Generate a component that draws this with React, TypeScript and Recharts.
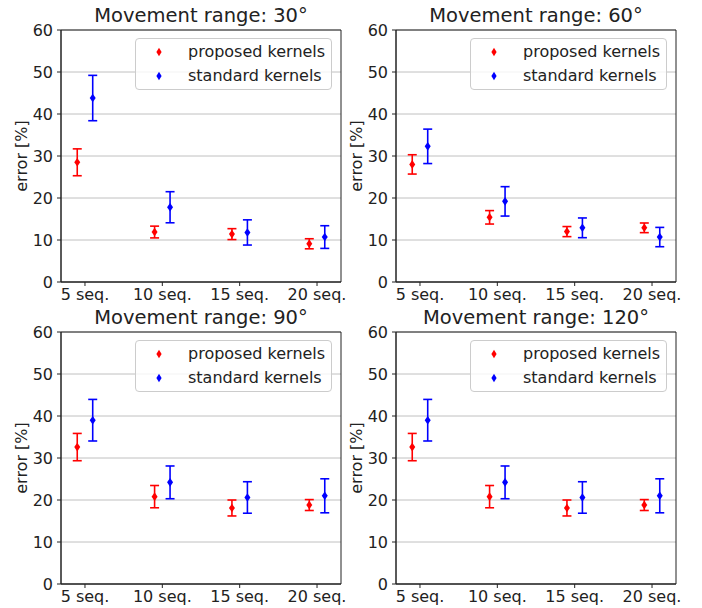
import { ScatterChart, Scatter, XAxis, YAxis, CartesianGrid, ErrorBar, ReferenceArea } from "recharts"

const categories = ["5 seq.", "10 seq.", "15 seq.", "20 seq."]
const yTicks = [0, 10, 20, 30, 40, 50, 60]
const titles = ["Movement range: 30°", "Movement range: 60°", "Movement range: 90°", "Movement range: 120°"]
const seriesNames = ["proposed kernels", "standard kernels"]

const proposed30 = [28.5, 11.9, 11.4, 9.1]
const proposedErr30 = [3.2, 1.4, 1.3, 1.2]
const standard30 = [43.8, 17.8, 11.8, 10.7]
const standardErr30 = [5.4, 3.7, 3.0, 2.7]

const proposed60 = [28.0, 15.4, 12.0, 12.9]
const proposedErr60 = [2.3, 1.6, 1.2, 1.15]
const standard60 = [32.3, 19.2, 12.9, 10.7]
const standardErr60 = [4.1, 3.5, 2.35, 2.3]

const proposed90 = [32.6, 20.8, 18.1, 18.8]
const proposedErr90 = [3.25, 2.65, 1.9, 1.3]
const standard90 = [39.0, 24.2, 20.6, 21.0]
const standardErr90 = [4.95, 3.9, 3.75, 4.05]

const proposed120 = [32.6, 20.8, 18.1, 18.8]
const proposedErr120 = [3.25, 2.65, 1.9, 1.3]
const standard120 = [39.0, 24.2, 20.6, 21.0]
const standardErr120 = [4.95, 3.9, 3.75, 4.05]

// the two series sit a little left / right of each category
const SHIFT = 0.1
const RED = "#ff0000"
const BLUE = "#0000ff"
const INK = "#222"

function toPoints(values: number[], errors: number[], shift: number) {
    return values.map((v, i) => ({ x: i + shift, y: v, err: errors[i] }))
}

const Diamond = (props: any) => {
    const { cx, cy, fill } = props
    if (cx == null || cy == null) return null
    return <polygon points={`${cx},${cy - 4.3} ${cx + 3},${cy} ${cx},${cy + 4.3} ${cx - 3},${cy}`} fill={fill} />
}

interface PanelProps {
    title: string
    proposed: number[]
    proposedErr: number[]
    standard: number[]
    standardErr: number[]
    left: number
    top: number
}

function LegendBox() {
    const colors = [RED, BLUE]
    return (
        <div
            style={{
                position: "absolute", left: 135, top: 38, width: 195, height: 50,
                border: "1px solid #cccccc", borderRadius: 4, background: "rgba(255,255,255,0.8)",
                fontSize: 16, color: INK,
            }}
        >
            {seriesNames.map((name, i) => (
                <div key={name} style={{ position: "absolute", left: 0, top: 1 + i * 24, height: 24, width: 195 }}>
                    <svg width={40} height={24} style={{ position: "absolute", left: 0, top: 0 }}>
                        <polygon points="23,7.7 25.6,12 23,16.3 20.4,12" fill={colors[i]} />
                    </svg>
                    <span style={{ position: "absolute", left: 52, top: 0, lineHeight: "24px", whiteSpace: "nowrap" }}>{name}</span>
                </div>
            ))}
        </div>
    )
}

function Panel({ title, proposed, proposedErr, standard, standardErr, left, top }: PanelProps) {
    return (
        <div style={{ position: "absolute", left, top, width: 351, height: 310 }}>
            <div style={{ position: "absolute", left: 61, top: 5, width: 280, textAlign: "center", fontSize: 19.5, lineHeight: "22px", color: INK }}>
                {title}
            </div>
            <ScatterChart width={351} height={310} margin={{ top: 30, right: 10, bottom: 0, left: 21 }}>
                <CartesianGrid vertical={false} stroke="#b0b0b0" strokeWidth={0.8} />
                <XAxis
                    type="number"
                    dataKey="x"
                    domain={[-0.31, 3.31]}
                    allowDataOverflow
                    ticks={[0, 1, 2, 3]}
                    interval={0}
                    tickFormatter={(i: number) => categories[i]}
                    height={28}
                    tickSize={4}
                    tickMargin={3}
                    stroke={INK}
                    tick={{ fontSize: 16, fill: INK }}
                />
                <YAxis
                    type="number"
                    dataKey="y"
                    domain={[0, 60]}
                    allowDataOverflow
                    ticks={yTicks}
                    interval={0}
                    width={40}
                    tickSize={4}
                    tickMargin={4}
                    stroke={INK}
                    tick={{ fontSize: 16, fill: INK }}
                    label={{ value: "error [%]", angle: -90, position: "insideLeft", offset: 0, style: { textAnchor: "middle", fontSize: 16, fill: INK } }}
                />
                <ReferenceArea x1={-0.31} x2={3.31} y1={0} y2={60} fill="none" stroke={INK} strokeWidth={1} />
                <Scatter data={toPoints(proposed, proposedErr, -SHIFT)} fill={RED} shape={Diamond} isAnimationActive={false}>
                    <ErrorBar dataKey="err" direction="y" width={4.5} stroke={RED} strokeWidth={1.6} />
                </Scatter>
                <Scatter data={toPoints(standard, standardErr, SHIFT)} fill={BLUE} shape={Diamond} isAnimationActive={false}>
                    <ErrorBar dataKey="err" direction="y" width={4.5} stroke={BLUE} strokeWidth={1.6} />
                </Scatter>
            </ScatterChart>
            <LegendBox />
        </div>
    )
}

export default function App() {
    const panels = [
        { title: titles[0], proposed: proposed30, proposedErr: proposedErr30, standard: standard30, standardErr: standardErr30, left: 0, top: 0 },
        { title: titles[1], proposed: proposed60, proposedErr: proposedErr60, standard: standard60, standardErr: standardErr60, left: 335, top: 0 },
        { title: titles[2], proposed: proposed90, proposedErr: proposedErr90, standard: standard90, standardErr: standardErr90, left: 0, top: 302 },
        { title: titles[3], proposed: proposed120, proposedErr: proposedErr120, standard: standard120, standardErr: standardErr120, left: 335, top: 302 },
    ]
    return (
        <div style={{ position: "absolute", left: 0, top: 0, width: 702, height: 608, background: "#fff", fontFamily: "'DejaVu Sans', sans-serif" }}>
            {panels.map((p) => (
                <Panel key={p.title} {...p} />
            ))}
        </div>
    )
}
